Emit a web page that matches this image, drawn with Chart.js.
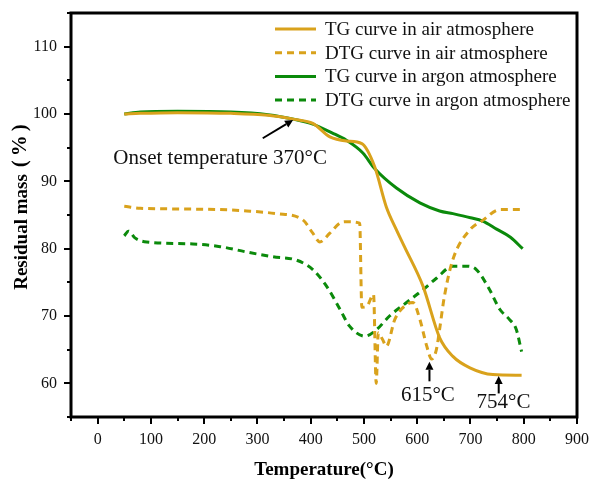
<!DOCTYPE html>
<html><head><meta charset="utf-8">
<script src="https://cdn.jsdelivr.net/npm/chart.js@4.4.0/dist/chart.umd.min.js"></script>
<style>html,body{margin:0;padding:0;background:#fff;}#wrap{width:590px;height:482px;}</style>
</head><body><div id="wrap"><canvas id="c" width="590" height="482"></canvas></div>
<script>
// ---- data ----
const tgAirT  = [50, 80, 150, 250, 320, 370, 404, 436, 467, 496, 520, 542, 561, 576, 611, 642, 667, 699, 742, 796];
const tgAirY  = [100.0, 100.1, 100.2, 100.1, 99.8, 99.2, 98.6, 96.6, 96.0, 95.6, 92.2, 86.2, 82.8, 80.3, 74.4, 66.8, 64.0, 62.3, 61.3, 61.2];
const dtgAirT = [50, 80, 150, 230, 280, 336, 385, 404, 417, 436, 455, 467, 492, 496, 505, 518, 523, 527, 535, 542, 558, 580, 592, 605, 618, 627, 636, 642, 651, 667, 699, 723, 755, 798];
const dtgAirY = [86.3, 86.0, 85.9, 85.8, 85.6, 85.2, 84.3, 82.3, 81.0, 82.3, 83.8, 84.0, 83.8, 71.3, 71.4, 73.2, 60.0, 67.5, 66.5, 65.5, 69.5, 71.7, 72.0, 69.5, 65.5, 63.6, 65.0, 68.0, 72.9, 78.4, 82.8, 84.2, 85.8, 85.8];
const tgArT   = [50, 80, 150, 250, 320, 370, 404, 440, 467, 498, 520, 561, 605, 642, 667, 700, 723, 749, 775, 798];
const tgArY   = [100.0, 100.3, 100.4, 100.3, 99.9, 99.2, 98.5, 97.2, 96.1, 94.2, 91.9, 89.0, 86.8, 85.6, 85.2, 84.6, 84.1, 82.9, 81.7, 80.0];
const dtgArT  = [50, 58, 70, 92, 179, 230, 280, 329, 373, 404, 430, 455, 473, 502, 524, 548, 580, 611, 636, 667, 692, 711, 736, 755, 773, 786, 796];
const dtgArY  = [81.9, 82.6, 81.6, 81.0, 80.7, 80.3, 79.5, 78.8, 78.3, 76.9, 74.4, 71.0, 68.5, 67.0, 68.0, 70.0, 72.0, 73.9, 75.6, 77.4, 77.4, 76.9, 73.9, 71.0, 69.5, 68.0, 64.7];
const seriesLabels = ['TG curve in air atmosphere', 'DTG curve in air atmosphere', 'TG curve in argon atmosphere', 'DTG curve in argon atmosphere'];
const xMajorTicks = [0, 100, 200, 300, 400, 500, 600, 700, 800, 900];
const yMajorTicks = [60, 70, 80, 90, 100, 110];
const xTitle = 'Temperature(°C)';
const yTitleMain = 'Residual mass';
const yTitleUnit = '(%)';
// annotations in data coordinates
const annTexts = [
  {text: 'Onset temperature 370°C', x: 230, y: 93.4},
  {text: '615°C', x: 620, y: 58.2},
  {text: '754°C', x: 762, y: 57.1}
];
const annArrows = [
  {x0: 310, y0: 96.4, x1: 367, y1: 99.1},
  {x0: 623, y0: 60.3, x1: 623, y1: 63.2},
  {x0: 753, y0: 58.5, x1: 753, y1: 61.1}
];

const FONT = '"Liberation Serif", "Times New Roman", serif';
const GOLD = '#D9A21C';
const GREEN = '#0B8A0B';

function pts(xs, ys){ return xs.map((v,i)=>({x:v, y:ys[i]})); }

const deco = {
  id: 'deco',
  afterDraw(chart){
    const {ctx, chartArea: a, scales: {x, y}} = chart;
    ctx.save();
    ctx.strokeStyle = '#000';
    ctx.fillStyle = '#000';
    // frame
    ctx.lineWidth = 3;
    ctx.strokeRect(a.left, a.top, a.right - a.left, a.bottom - a.top);
    // ticks
    ctx.lineWidth = 2;
    ctx.beginPath();
    for (let v = x.min; v <= x.max; v += 50) {
      const px = Math.round(x.getPixelForValue(v));
      const len = xMajorTicks.includes(v) ? 7 : 4;
      ctx.moveTo(px, a.bottom); ctx.lineTo(px, a.bottom + len);
    }
    for (let v = y.min; v <= y.max; v += 5) {
      const py = Math.round(y.getPixelForValue(v));
      const len = yMajorTicks.includes(v) ? 7 : 4;
      ctx.moveTo(a.left, py); ctx.lineTo(a.left - len, py);
    }
    ctx.stroke();
    // axis titles
    ctx.font = 'bold 19px ' + FONT;
    ctx.textAlign = 'center'; ctx.textBaseline = 'middle';
    ctx.fillText(xTitle, (a.left + a.right) / 2, 470);
    ctx.save();
    ctx.translate(22, 205);
    ctx.rotate(-Math.PI / 2);
    ctx.textAlign = 'left';
    ctx.font = 'bold 19px ' + FONT;
    const w1 = ctx.measureText(yTitleMain).width;
    ctx.font = 'bold 21px ' + FONT;
    ctx.letterSpacing = '4px';
    const w2 = ctx.measureText(yTitleUnit).width;
    const gap = 7;
    const start = -(w1 + gap + w2) / 2;
    ctx.letterSpacing = '0px';
    ctx.font = 'bold 19px ' + FONT;
    ctx.fillText(yTitleMain, start, 0);
    ctx.font = 'bold 21px ' + FONT;
    ctx.letterSpacing = '4px';
    ctx.fillText(yTitleUnit, start + w1 + gap, -1);
    ctx.letterSpacing = '0px';
    ctx.restore();
    // annotations
    ctx.font = '21px ' + FONT;
    ctx.textAlign = 'center';
    ctx.fillStyle = '#111';
    annTexts.forEach(t => ctx.fillText(t.text, x.getPixelForValue(t.x), y.getPixelForValue(t.y)));
    ctx.fillStyle = '#000';
    ctx.lineWidth = 2;
    annArrows.forEach(r => {
      const x0 = x.getPixelForValue(r.x0), y0 = y.getPixelForValue(r.y0);
      const x1 = x.getPixelForValue(r.x1), y1 = y.getPixelForValue(r.y1);
      const ang = Math.atan2(y1 - y0, x1 - x0);
      const hl = 8, hw = 4;
      const bx = x1 - hl * Math.cos(ang), by = y1 - hl * Math.sin(ang);
      ctx.beginPath(); ctx.moveTo(x0, y0); ctx.lineTo(bx, by); ctx.stroke();
      ctx.beginPath();
      ctx.moveTo(x1, y1);
      ctx.lineTo(bx + hw * Math.sin(ang), by - hw * Math.cos(ang));
      ctx.lineTo(bx - hw * Math.sin(ang), by + hw * Math.cos(ang));
      ctx.closePath(); ctx.fill();
    });
    // legend
    ctx.font = '19px ' + FONT;
    ctx.textAlign = 'left'; ctx.textBaseline = 'middle';
    chart.data.datasets.forEach((ds, i) => {
      const ly = 29 + i * 23.7;
      ctx.strokeStyle = ds.borderColor;
      ctx.lineWidth = ds.borderWidth;
      ctx.setLineDash(ds.borderDash || []);
      ctx.beginPath(); ctx.moveTo(275, ly); ctx.lineTo(316, ly); ctx.stroke();
      ctx.setLineDash([]);
      ctx.fillStyle = '#111';
      ctx.fillText(ds.label, 325, ly + 1);
    });
    ctx.restore();
  }
};

new Chart(document.getElementById('c'), {
  type: 'scatter',
  data: {
    datasets: [
      {label: seriesLabels[0], data: pts(tgAirT, tgAirY), borderColor: GOLD, borderWidth: 3, showLine: true, pointRadius: 0, cubicInterpolationMode: 'monotone'},
      {label: seriesLabels[1], data: pts(dtgAirT, dtgAirY), borderColor: GOLD, borderWidth: 3, borderDash: [7, 5], showLine: true, pointRadius: 0, cubicInterpolationMode: 'monotone'},
      {label: seriesLabels[2], data: pts(tgArT, tgArY), borderColor: GREEN, borderWidth: 3, showLine: true, pointRadius: 0, cubicInterpolationMode: 'monotone'},
      {label: seriesLabels[3], data: pts(dtgArT, dtgArY), borderColor: GREEN, borderWidth: 3, borderDash: [7, 5], showLine: true, pointRadius: 0, cubicInterpolationMode: 'monotone'}
    ]
  },
  options: {
    responsive: false,
    animation: false,
    devicePixelRatio: 1,
    layout: {padding: {left: 0, right: 13, top: 13, bottom: 0}},
    plugins: {legend: {display: false}, tooltip: {enabled: false}},
    scales: {
      x: {
        type: 'linear', min: -50, max: 900,
        grid: {display: false, drawTicks: false}, border: {display: false},
        ticks: {stepSize: 50, padding: 13, color: '#111', font: {family: FONT, size: 16},
          maxRotation: 0, autoSkip: false,
          callback: v => xMajorTicks.includes(v) ? String(v) : ''},
        afterFit: s => { s.height = 65; s.paddingLeft = 0; s.paddingRight = 0; }
      },
      y: {
        type: 'linear', min: 55, max: 115,
        grid: {display: false, drawTicks: false}, border: {display: false},
        ticks: {stepSize: 5, padding: 14, color: '#111', font: {family: FONT, size: 16},
          autoSkip: false,
          callback: v => yMajorTicks.includes(v) ? String(v) : ''},
        afterFit: s => { s.width = 71; s.paddingTop = 0; s.paddingBottom = 0; }
      }
    }
  },
  plugins: [deco]
});
</script>
</body></html>
